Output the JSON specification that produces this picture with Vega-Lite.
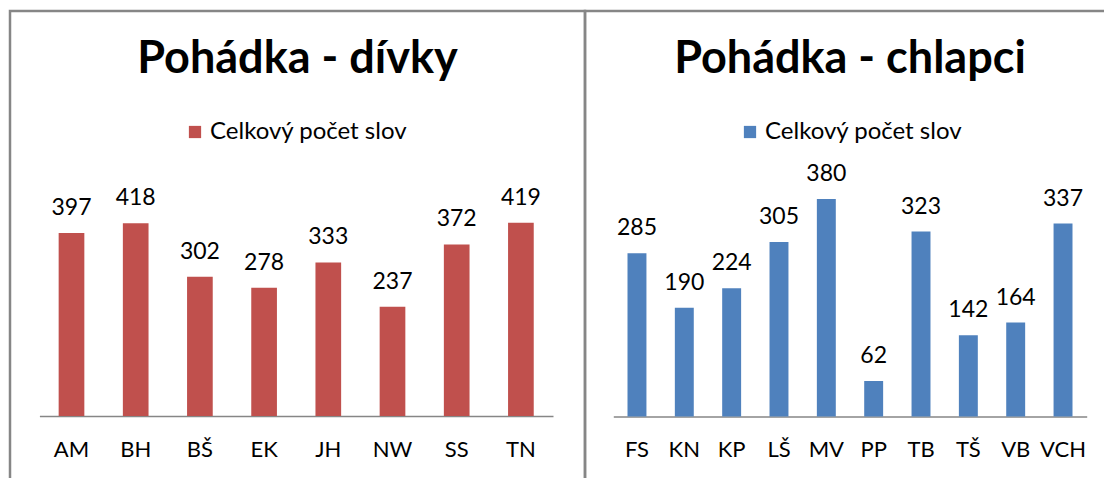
{
  "$schema": "https://vega.github.io/schema/vega-lite/v6.json",
  "padding": {"left": 8, "top": 9, "right": 0, "bottom": 0},
  "background": "white",
  "spacing": 0,
  "bounds": "flush",
  "config": {
    "font": "Lato",
    "view": {"stroke": "#868686", "strokeWidth": 2.5},
    "axis": {"labelFont": "Lato", "labelColor": "black"},
    "legend": {"labelFont": "Lato"}
  },
  "datasets": {
    "divky": [
      {"jmeno": "AM", "pocet": 397, "serie": "Celkový počet slov"},
      {"jmeno": "BH", "pocet": 418, "serie": "Celkový počet slov"},
      {"jmeno": "BŠ", "pocet": 302, "serie": "Celkový počet slov"},
      {"jmeno": "EK", "pocet": 278, "serie": "Celkový počet slov"},
      {"jmeno": "JH", "pocet": 333, "serie": "Celkový počet slov"},
      {"jmeno": "NW", "pocet": 237, "serie": "Celkový počet slov"},
      {"jmeno": "SS", "pocet": 372, "serie": "Celkový počet slov"},
      {"jmeno": "TN", "pocet": 419, "serie": "Celkový počet slov"}
    ],
    "chlapci": [
      {"jmeno": "FS", "pocet": 285, "serie": "Celkový počet slov"},
      {"jmeno": "KN", "pocet": 190, "serie": "Celkový počet slov"},
      {"jmeno": "KP", "pocet": 224, "serie": "Celkový počet slov"},
      {"jmeno": "LŠ", "pocet": 305, "serie": "Celkový počet slov"},
      {"jmeno": "MV", "pocet": 380, "serie": "Celkový počet slov"},
      {"jmeno": "PP", "pocet": 62, "serie": "Celkový počet slov"},
      {"jmeno": "TB", "pocet": 323, "serie": "Celkový počet slov"},
      {"jmeno": "TŠ", "pocet": 142, "serie": "Celkový počet slov"},
      {"jmeno": "VB", "pocet": 164, "serie": "Celkový počet slov"},
      {"jmeno": "VCH", "pocet": 337, "serie": "Celkový počet slov"}
    ]
  },
  "hconcat": [
    {
      "width": 575,
      "height": 480,
      "data": {"name": "divky"},
      "title": {"text": "Pohádka - dívky", "fontSize": 45, "font": "Lato", "fontWeight": "bold", "anchor": "middle", "baseline": "alphabetic", "offset": -107, "color": "black"},
      "encoding": {
        "x": {"field": "jmeno", "type": "nominal", "sort": null,
          "scale": {"range": [29.4, 543], "paddingInner": 0.6, "paddingOuter": 0.3},
          "axis": {"title": null, "labelAngle": 0, "ticks": false, "labelFontSize": 22, "labelPadding": 23, "domainColor": "#868686", "domainWidth": 1.5, "offset": -75, "grid": false}},
        "y": {"field": "pocet", "type": "quantitative",
          "scale": {"domain": [0, 450], "range": [405, 197.5], "nice": false, "zero": true},
          "axis": null}
      },
      "layer": [
        {
          "mark": {"type": "bar"},
          "encoding": {
            "color": {"field": "serie", "type": "nominal",
              "scale": {"range": ["#C0504D"]},
              "legend": {"title": null, "orient": "none", "legendX": 173, "legendY": 109, "padding": 0, "symbolType": "square", "symbolSize": 150, "symbolStrokeWidth": 0, "symbolOpacity": 1, "labelFontSize": 24, "labelOffset": 3, "labelLimit": 0, "labelColor": "black"}}
          }
        },
        {
          "mark": {"type": "text", "baseline": "alphabetic", "dy": -18, "fontSize": 23, "font": "Lato", "color": "black"},
          "encoding": {"text": {"field": "pocet", "type": "quantitative"}}
        }
      ]
    },
    {
      "width": 530,
      "height": 480,
      "data": {"name": "chlapci"},
      "title": {"text": "Pohádka - chlapci", "fontSize": 45, "font": "Lato", "fontWeight": "bold", "anchor": "middle", "baseline": "alphabetic", "offset": -107, "color": "black"},
      "encoding": {
        "x": {"field": "jmeno", "type": "nominal", "sort": null,
          "scale": {"range": [28.3, 501.7], "paddingInner": 0.6, "paddingOuter": 0.3},
          "axis": {"title": null, "labelAngle": 0, "ticks": false, "labelFontSize": 22, "labelPadding": 23, "domainColor": "#868686", "domainWidth": 1.5, "offset": -74.5, "grid": false}},
        "y": {"field": "pocet", "type": "quantitative",
          "scale": {"domain": [0, 400], "range": [405.5, 176.5], "nice": false, "zero": true},
          "axis": null}
      },
      "layer": [
        {
          "mark": {"type": "bar"},
          "encoding": {
            "color": {"field": "serie", "type": "nominal",
              "scale": {"range": ["#4F81BD"]},
              "legend": {"title": null, "orient": "none", "legendX": 153, "legendY": 109, "padding": 0, "symbolType": "square", "symbolSize": 150, "symbolStrokeWidth": 0, "symbolOpacity": 1, "labelFontSize": 24, "labelOffset": 3, "labelLimit": 0, "labelColor": "black"}}
          }
        },
        {
          "mark": {"type": "text", "baseline": "alphabetic", "dy": -18, "fontSize": 23, "font": "Lato", "color": "black"},
          "encoding": {"text": {"field": "pocet", "type": "quantitative"}}
        }
      ]
    }
  ],
  "resolve": {"scale": {"color": "independent", "x": "independent", "y": "independent"}}
}
